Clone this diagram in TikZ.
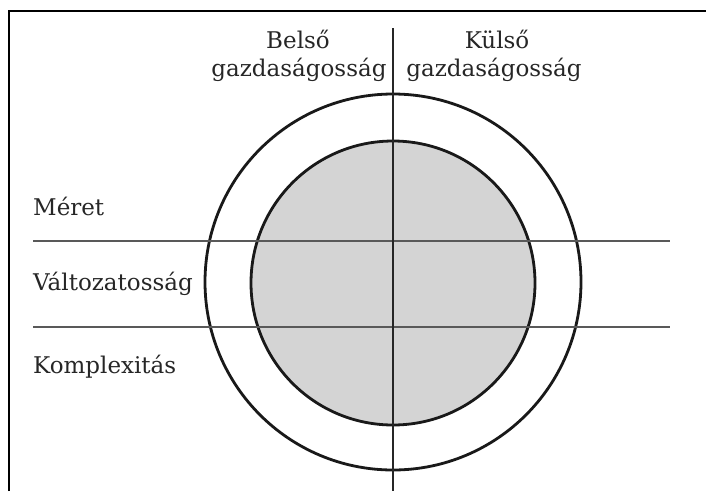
\documentclass[tikz,border=0pt]{standalone}
\usepackage{fontspec}
\setmainfont{DejaVu Serif}
\usetikzlibrary{positioning}

\begin{document}
\begin{tikzpicture}[
  x=1pt,y=-1pt,
  every node/.style={text=black!85,font=\fontsize{23}{27}\selectfont,inner sep=0pt},
  ring/.style={circle,draw=black!90,line width=2.8pt,inner sep=0pt},
  row/.style={draw=black!65,line width=1.6pt}]
  \useasboundingbox (0,0) rectangle (706,491);
  \draw[line width=2.2pt] (9,491) -- (9,11) -- (706,11);
  % circles
  \node[ring,fill=white,minimum size=376pt](outer) at(393,282){};
  \node[ring,fill=black!17,minimum size=284pt](inner) at(393,283){};
  % rows
  \coordinate(rowAw) at(33,241);\coordinate(rowAe) at(670,241);
  \coordinate(rowBw) at(33,327);\coordinate(rowBe) at(670,327);
  \draw[row](rowAw)--(rowAe);
  \draw[row](rowBw)--(rowBe);
  % split
  \coordinate(splitN) at(393,28);\coordinate(splitS) at(393,491);
  \draw[line width=1.4pt,black!85](splitN)--(splitS);
  % labels
  \node[anchor=base](belso) at(298,48){Belső};
  \node[anchor=base](belsogazd) at(299,76){gazdaságosság};
  \node[anchor=base](kulso) at(497,48){Külső};
  \node[anchor=base](kulsogazd) at(494,76){gazdaságosság};
  \node[anchor=base west](meret) at(33,215){Méret};
  \node[anchor=base west](valtozat) at(33,290){Változatosság};
  \node[anchor=base west](komplex) at(33,373){Komplexitás};
\end{tikzpicture}
\end{document}
